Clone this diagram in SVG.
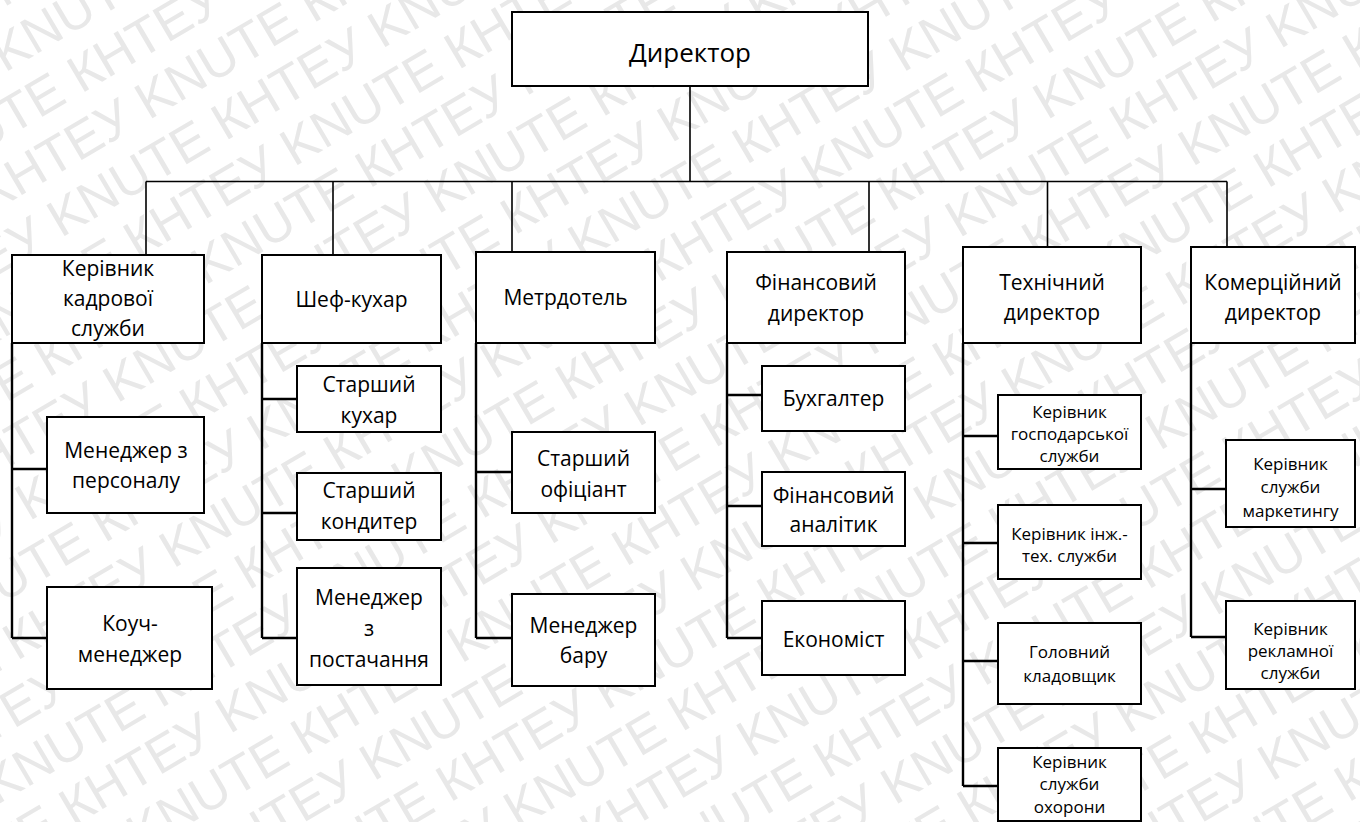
<svg xmlns="http://www.w3.org/2000/svg" width="1360" height="822" viewBox="0 0 1360 822">
<style>
.wm{font-family:"Liberation Sans",Arial,sans-serif;font-size:52px;fill:#e8e8e8;}
.box{fill:#ffffff;stroke:#000000;stroke-width:2;}
.t{font-family:"Open Sans","Noto Sans",sans-serif;fill:#000000;text-anchor:middle;}
.t26{font-size:26px;}
.t21{font-size:21px;}
.t17{font-size:17px;}
.bus{fill:none;stroke:#000000;stroke-width:1.6;}
.col{fill:none;stroke:#000000;stroke-width:2.4;}
</style>
<rect x="0" y="0" width="1360" height="822" fill="#ffffff"/>
<g id="watermark" transform="rotate(-30.5 680 411)">
<text class="wm" x="-520" y="-280">КНТЕУ KNUTE КНТЕУ KNUTE КНТЕУ KNUTE КНТЕУ KNUTE КНТЕУ KNUTE КНТЕУ KNUTE</text>
<text class="wm" x="-284.5" y="-223">КНТЕУ KNUTE КНТЕУ KNUTE КНТЕУ KNUTE КНТЕУ KNUTE КНТЕУ KNUTE КНТЕУ KNUTE</text>
<text class="wm" x="-420" y="-166">КНТЕУ KNUTE КНТЕУ KNUTE КНТЕУ KNUTE КНТЕУ KNUTE КНТЕУ KNUTE КНТЕУ KNUTE</text>
<text class="wm" x="-184.5" y="-109">КНТЕУ KNUTE КНТЕУ KNUTE КНТЕУ KNUTE КНТЕУ KNUTE КНТЕУ KNUTE КНТЕУ KNUTE</text>
<text class="wm" x="-320" y="-52">КНТЕУ KNUTE КНТЕУ KNUTE КНТЕУ KNUTE КНТЕУ KNUTE КНТЕУ KNUTE КНТЕУ KNUTE</text>
<text class="wm" x="-455.5" y="5">КНТЕУ KNUTE КНТЕУ KNUTE КНТЕУ KNUTE КНТЕУ KNUTE КНТЕУ KNUTE КНТЕУ KNUTE</text>
<text class="wm" x="-220" y="62">КНТЕУ KNUTE КНТЕУ KNUTE КНТЕУ KNUTE КНТЕУ KNUTE КНТЕУ KNUTE КНТЕУ KNUTE</text>
<text class="wm" x="-355.5" y="119">КНТЕУ KNUTE КНТЕУ KNUTE КНТЕУ KNUTE КНТЕУ KNUTE КНТЕУ KNUTE КНТЕУ KNUTE</text>
<text class="wm" x="-491" y="176">КНТЕУ KNUTE КНТЕУ KNUTE КНТЕУ KNUTE КНТЕУ KNUTE КНТЕУ KNUTE КНТЕУ KNUTE</text>
<text class="wm" x="-255.5" y="233">КНТЕУ KNUTE КНТЕУ KNUTE КНТЕУ KNUTE КНТЕУ KNUTE КНТЕУ KNUTE КНТЕУ KNUTE</text>
<text class="wm" x="-391" y="290">КНТЕУ KNUTE КНТЕУ KNUTE КНТЕУ KNUTE КНТЕУ KNUTE КНТЕУ KNUTE КНТЕУ KNUTE</text>
<text class="wm" x="-155.5" y="347">КНТЕУ KNUTE КНТЕУ KNUTE КНТЕУ KNUTE КНТЕУ KNUTE КНТЕУ KNUTE КНТЕУ KNUTE</text>
<text class="wm" x="-291" y="404">КНТЕУ KNUTE КНТЕУ KNUTE КНТЕУ KNUTE КНТЕУ KNUTE КНТЕУ KNUTE КНТЕУ KNUTE</text>
<text class="wm" x="-426.5" y="461">КНТЕУ KNUTE КНТЕУ KNUTE КНТЕУ KNUTE КНТЕУ KNUTE КНТЕУ KNUTE КНТЕУ KNUTE</text>
<text class="wm" x="-191" y="518">КНТЕУ KNUTE КНТЕУ KNUTE КНТЕУ KNUTE КНТЕУ KNUTE КНТЕУ KNUTE КНТЕУ KNUTE</text>
<text class="wm" x="-326.5" y="575">КНТЕУ KNUTE КНТЕУ KNUTE КНТЕУ KNUTE КНТЕУ KNUTE КНТЕУ KNUTE КНТЕУ KNUTE</text>
<text class="wm" x="-462" y="632">КНТЕУ KNUTE КНТЕУ KNUTE КНТЕУ KNUTE КНТЕУ KNUTE КНТЕУ KNUTE КНТЕУ KNUTE</text>
<text class="wm" x="-226.5" y="689">КНТЕУ KNUTE КНТЕУ KNUTE КНТЕУ KNUTE КНТЕУ KNUTE КНТЕУ KNUTE КНТЕУ KNUTE</text>
<text class="wm" x="-362" y="746">КНТЕУ KNUTE КНТЕУ KNUTE КНТЕУ KNUTE КНТЕУ KNUTE КНТЕУ KNUTE КНТЕУ KNUTE</text>
<text class="wm" x="-497.5" y="803">КНТЕУ KNUTE КНТЕУ KNUTE КНТЕУ KNUTE КНТЕУ KNUTE КНТЕУ KNUTE КНТЕУ KNUTE</text>
<text class="wm" x="-262" y="860">КНТЕУ KNUTE КНТЕУ KNUTE КНТЕУ KNUTE КНТЕУ KNUTE КНТЕУ KNUTE КНТЕУ KNUTE</text>
<text class="wm" x="-397.5" y="917">КНТЕУ KNUTE КНТЕУ KNUTE КНТЕУ KNUTE КНТЕУ KNUTE КНТЕУ KNUTE КНТЕУ KNUTE</text>
<text class="wm" x="-162" y="974">КНТЕУ KNUTE КНТЕУ KNUTE КНТЕУ KNUTE КНТЕУ KNUTE КНТЕУ KNUTE КНТЕУ KNUTE</text>
<text class="wm" x="-297.5" y="1031">КНТЕУ KNUTE КНТЕУ KNUTE КНТЕУ KNUTE КНТЕУ KNUTE КНТЕУ KNUTE КНТЕУ KNUTE</text>
<text class="wm" x="-433" y="1088">КНТЕУ KNUTE КНТЕУ KNUTE КНТЕУ KNUTE КНТЕУ KNUTE КНТЕУ KNUTE КНТЕУ KNUTE</text>
<text class="wm" x="-197.5" y="1145">КНТЕУ KNUTE КНТЕУ KNUTE КНТЕУ KNUTE КНТЕУ KNUTE КНТЕУ KNUTE КНТЕУ KNUTE</text>
</g>
<g id="connectors">
<path class="bus" d="M690 86 V181.5 M146 181.5 H1227 M146 181.5 V255 M333 181.5 V255 M512 181.5 V252 M869 181.5 V252 M1047.5 181.5 V247 M1227 181.5 V247"/>
<path class="col" d="M12 343 V638 M12 469 H47 M12 638 H47"/>
<path class="col" d="M262 343 V638 M262 399 H297 M262 513 H297 M262 638 H297"/>
<path class="col" d="M476 343 V638 M476 472 H512 M476 638 H512"/>
<path class="col" d="M727 343 V638 M727 395 H762 M727 506 H762 M727 638 H762"/>
<path class="col" d="M963 343 V786 M963 436 H998 M963 543 H998 M963 661 H998 M963 786 H998"/>
<path class="col" d="M1191 343 V637 M1191 489 H1226 M1191 637 H1226"/>
</g>
<g id="director"><rect class="box" x="512" y="12" width="356" height="74"/><text class="t t26" x="690" y="62">Директор</text></g>
<g id="hr-head"><rect class="box" x="12" y="255" width="192" height="88"/><text class="t t21"><tspan x="108" y="276">Керівник</tspan><tspan x="108" y="306">кадрової</tspan><tspan x="108" y="336">служби</tspan></text></g>
<g id="chef"><rect class="box" x="262" y="255" width="179" height="88"/><text class="t t21" x="351.5" y="307">Шеф-кухар</text></g>
<g id="maitre"><rect class="box" x="476" y="252" width="179" height="91"/><text class="t t21" x="565.5" y="305">Метрдотель</text></g>
<g id="cfo"><rect class="box" x="727" y="252" width="178" height="91"/><text class="t t21"><tspan x="816" y="290">Фінансовий</tspan><tspan x="816" y="321">директор</tspan></text></g>
<g id="cto"><rect class="box" x="963" y="247" width="178" height="96"/><text class="t t21"><tspan x="1052" y="290">Технічний</tspan><tspan x="1052" y="320">директор</tspan></text></g>
<g id="cco"><rect class="box" x="1191" y="247" width="164" height="96"/><text class="t t21"><tspan x="1273" y="290">Комерційний</tspan><tspan x="1273" y="320">директор</tspan></text></g>
<g id="hr-manager"><rect class="box" x="47" y="417" width="157" height="96"/><text class="t t21"><tspan x="126" y="458">Менеджер з</tspan><tspan x="126" y="488">персоналу</tspan></text></g>
<g id="coach"><rect class="box" x="47" y="587" width="165" height="102"/><text class="t t21"><tspan x="130" y="631">Коуч-</tspan><tspan x="130" y="662">менеджер</tspan></text></g>
<g id="senior-cook"><rect class="box" x="297" y="366" width="144" height="66"/><text class="t t21"><tspan x="369" y="392">Старший</tspan><tspan x="369" y="423">кухар</tspan></text></g>
<g id="senior-confectioner"><rect class="box" x="297" y="473" width="144" height="67"/><text class="t t21"><tspan x="369" y="498">Старший</tspan><tspan x="369" y="529">кондитер</tspan></text></g>
<g id="supply-manager"><rect class="box" x="297" y="568" width="144" height="117"/><text class="t t21"><tspan x="369" y="605">Менеджер</tspan><tspan x="369" y="636">з</tspan><tspan x="369" y="667">постачання</tspan></text></g>
<g id="senior-waiter"><rect class="box" x="512" y="432" width="143" height="81"/><text class="t t21"><tspan x="583.5" y="466">Старший</tspan><tspan x="583.5" y="497">офіціант</tspan></text></g>
<g id="bar-manager"><rect class="box" x="512" y="594" width="143" height="92"/><text class="t t21"><tspan x="583.5" y="633">Менеджер</tspan><tspan x="583.5" y="663">бару</tspan></text></g>
<g id="accountant"><rect class="box" x="762" y="366" width="143" height="65"/><text class="t t21" x="833.5" y="406">Бухгалтер</text></g>
<g id="fin-analyst"><rect class="box" x="762" y="472" width="143" height="74"/><text class="t t21"><tspan x="833.5" y="503">Фінансовий</tspan><tspan x="833.5" y="532">аналітик</tspan></text></g>
<g id="economist"><rect class="box" x="762" y="601" width="143" height="74"/><text class="t t21" x="833.5" y="647">Економіст</text></g>
<g id="household-head"><rect class="box" x="998" y="395" width="143" height="74"/><text class="t t17"><tspan x="1069.5" y="418">Керівник</tspan><tspan x="1069.5" y="440">господарської</tspan><tspan x="1069.5" y="462">служби</tspan></text></g>
<g id="engineering-head"><rect class="box" x="998" y="505" width="143" height="74"/><text class="t t17"><tspan x="1069.5" y="540">Керівник інж.-</tspan><tspan x="1069.5" y="562">тех. служби</tspan></text></g>
<g id="storekeeper"><rect class="box" x="998" y="623" width="143" height="81"/><text class="t t17"><tspan x="1069.5" y="658">Головний</tspan><tspan x="1069.5" y="682">кладовщик</tspan></text></g>
<g id="security-head"><rect class="box" x="998" y="748" width="143" height="73"/><text class="t t17"><tspan x="1069.5" y="768">Керівник</tspan><tspan x="1069.5" y="790">служби</tspan><tspan x="1069.5" y="813">охорони</tspan></text></g>
<g id="marketing-head"><rect class="box" x="1226" y="440" width="129" height="87"/><text class="t t17"><tspan x="1290.5" y="470">Керівник</tspan><tspan x="1290.5" y="493">служби</tspan><tspan x="1290.5" y="517">маркетингу</tspan></text></g>
<g id="advertising-head"><rect class="box" x="1226" y="601" width="129" height="88"/><text class="t t17"><tspan x="1290.5" y="635">Керівник</tspan><tspan x="1290.5" y="657">рекламної</tspan><tspan x="1290.5" y="679">служби</tspan></text></g>
</svg>
